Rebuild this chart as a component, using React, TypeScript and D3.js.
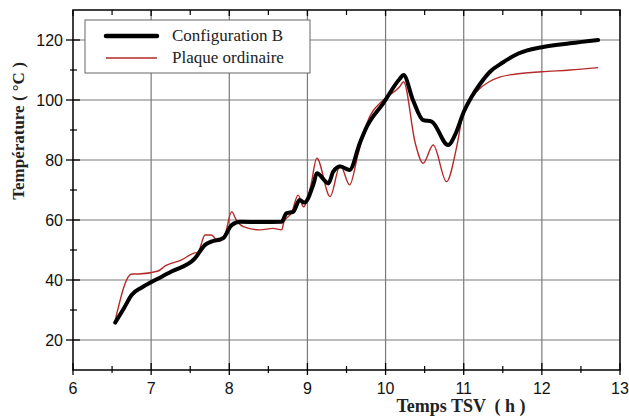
import React from "react";
import * as d3 from "d3";

const configBX = [6.54, 6.65, 6.75, 6.88, 7.01, 7.26, 7.56, 7.69, 7.77, 7.92, 8.03, 8.14, 8.4, 8.67, 8.73, 8.82, 8.9, 8.96, 9.08, 9.12, 9.27, 9.33, 9.42, 9.54, 9.67, 9.76, 9.97, 10.18, 10.23, 10.35, 10.48, 10.59, 10.8, 10.9, 11.0, 11.1, 11.2, 11.34, 11.5, 11.7, 12.0, 12.36, 12.72];
const configBY = [25.8, 30.5, 35, 37.5, 39.4, 42.8, 47.2, 51.7, 52.8, 53.9, 58.3, 59.4, 59.3, 59.4, 62.2, 62.8, 66.7, 65.8, 72.2, 75.6, 72.2, 76.1, 77.8, 76.7, 85.6, 91.1, 98.9, 107, 108.3, 100, 93.3, 92.8, 85, 89, 96, 101, 105, 109.5, 112.5, 115.5, 117.6, 118.9, 120];

const plaqueX = [6.54, 6.75, 6.84, 7.09, 7.18, 7.39, 7.54, 7.6, 7.69, 7.77, 7.86, 7.95, 8.03, 8.09, 8.18, 8.39, 8.56, 8.67, 8.7, 8.8, 8.88, 8.95, 9.04, 9.12, 9.29, 9.42, 9.54, 9.65, 9.76, 9.97, 10.18, 10.23, 10.38, 10.48, 10.61, 10.78, 10.91, 11.0, 11.1, 11.21, 11.32, 11.46, 11.65, 12.0, 12.36, 12.72];
const plaqueY = [26.5, 42, 42, 43, 44.7, 46.7, 48.9, 49.3, 55, 55, 52.8, 55.6, 62.8, 60, 57.8, 56.7, 57.2, 56.7, 59.4, 62.5, 68.3, 64.4, 71, 80.6, 67.8, 78.3, 71.7, 82.2, 92.2, 100, 104.4, 106.1, 85.6, 78.9, 85, 72.8, 84.4, 96.5, 100.8, 103.9, 106, 107.6, 108.6, 109.4, 110, 110.8];

const xTicks = [6, 7, 8, 9, 10, 11, 12, 13];
const yTicks = [20, 40, 60, 80, 100, 120];
const legendLabels = ["Configuration B", "Plaque ordinaire"];

export default function App() {
  const W = 629, H = 416;
  const x = d3.scaleLinear().domain([6, 13]).range([73, 620]);
  const y = d3.scaleLinear().domain([10, 130]).range([370, 10]);
  const line = d3.line<[number, number]>().x(d => x(d[0])).y(d => y(d[1])).curve(d3.curveMonotoneX);
  const bData = configBX.map((v, i) => [v, configBY[i]] as [number, number]);
  const pData = plaqueX.map((v, i) => [v, plaqueY[i]] as [number, number]);
  const xMinor = d3.range(6.5, 13, 1);
  const yMinor = d3.range(30, 130, 20);
  const gridColor = "#7a7a7a";
  return (
    <svg width={W} height={H} style={{ position: "absolute", left: 0, top: 0, background: "#fff" }}>
      <rect width={W} height={H} fill="#fff" />
      {xTicks.slice(1, -1).map(t => (
        <line key={"gx" + t} x1={x(t)} x2={x(t)} y1={y(130)} y2={y(10)} stroke={gridColor} strokeWidth={1.2} />
      ))}
      {yTicks.map(t => (
        <line key={"gy" + t} x1={x(6)} x2={x(13)} y1={y(t)} y2={y(t)} stroke={gridColor} strokeWidth={1.2} />
      ))}
      <rect x={x(6)} y={y(130)} width={x(13) - x(6)} height={y(10) - y(130)} fill="none" stroke="#000" strokeWidth={1.5} />
      {xTicks.map(t => (
        <g key={"tx" + t}>
          <line x1={x(t)} x2={x(t)} y1={y(10) - 7} y2={y(10) + 5} stroke="#000" strokeWidth={1.3} />
          <line x1={x(t)} x2={x(t)} y1={y(130)} y2={y(130) + 6} stroke="#000" strokeWidth={1.3} />
          <text x={x(t)} y={y(10) + 24} textAnchor="middle" fontFamily="Liberation Sans, Arial, sans-serif" fontSize={16} fill="#111">{t}</text>
        </g>
      ))}
      {xMinor.map(t => (
        <g key={"mx" + t}>
          <line x1={x(t)} x2={x(t)} y1={y(10) - 4} y2={y(10) + 3} stroke="#000" strokeWidth={1.2} />
          <line x1={x(t)} x2={x(t)} y1={y(130)} y2={y(130) + 5} stroke="#000" strokeWidth={1.2} />
        </g>
      ))}
      {yTicks.map(t => (
        <g key={"ty" + t}>
          <line x1={x(6) - 7} x2={x(6) + 7} y1={y(t)} y2={y(t)} stroke="#000" strokeWidth={1.3} />
          <text x={x(6) - 10} y={y(t) + 6} textAnchor="end" fontFamily="Liberation Sans, Arial, sans-serif" fontSize={16} fill="#111">{t}</text>
        </g>
      ))}
      {yMinor.map(t => (
        <line key={"my" + t} x1={x(6) - 3} x2={x(6) + 4} y1={y(t)} y2={y(t)} stroke="#000" strokeWidth={1.2} />
      ))}
      <path d={line(pData) || ""} fill="none" stroke="#b52a2a" strokeWidth={1.4} strokeLinejoin="round" />
      <path d={line(bData) || ""} fill="none" stroke="#000" strokeWidth={4} strokeLinejoin="round" strokeLinecap="round" />
      <g>
        <rect x={85} y={20} width={225} height={53} fill="#fff" stroke="#666" strokeWidth={1} />
        <line x1={106} x2={157} y1={36} y2={36} stroke="#000" strokeWidth={4.5} strokeLinecap="round" />
        <line x1={106} x2={157} y1={58} y2={58} stroke="#b52a2a" strokeWidth={1.5} />
        <text x={172} y={41} fontFamily="Liberation Serif, Times New Roman, serif" fontSize={17} fill="#222">{legendLabels[0]}</text>
        <text x={172} y={63} fontFamily="Liberation Serif, Times New Roman, serif" fontSize={17} fill="#222">{legendLabels[1]}</text>
      </g>
      <text x={461} y={412} textAnchor="middle" fontFamily="Liberation Serif, Times New Roman, serif" fontWeight="bold" fontSize={18} fill="#222" style={{ whiteSpace: "pre" }}>{"Temps TSV  ( h )"}</text>
      <text transform={`translate(24,131) rotate(-90)`} textAnchor="middle" fontFamily="Liberation Serif, Times New Roman, serif" fontWeight="bold" fontSize={17} fill="#222" style={{ whiteSpace: "pre" }}>{"Température ( °C )"}</text>
    </svg>
  );
}
